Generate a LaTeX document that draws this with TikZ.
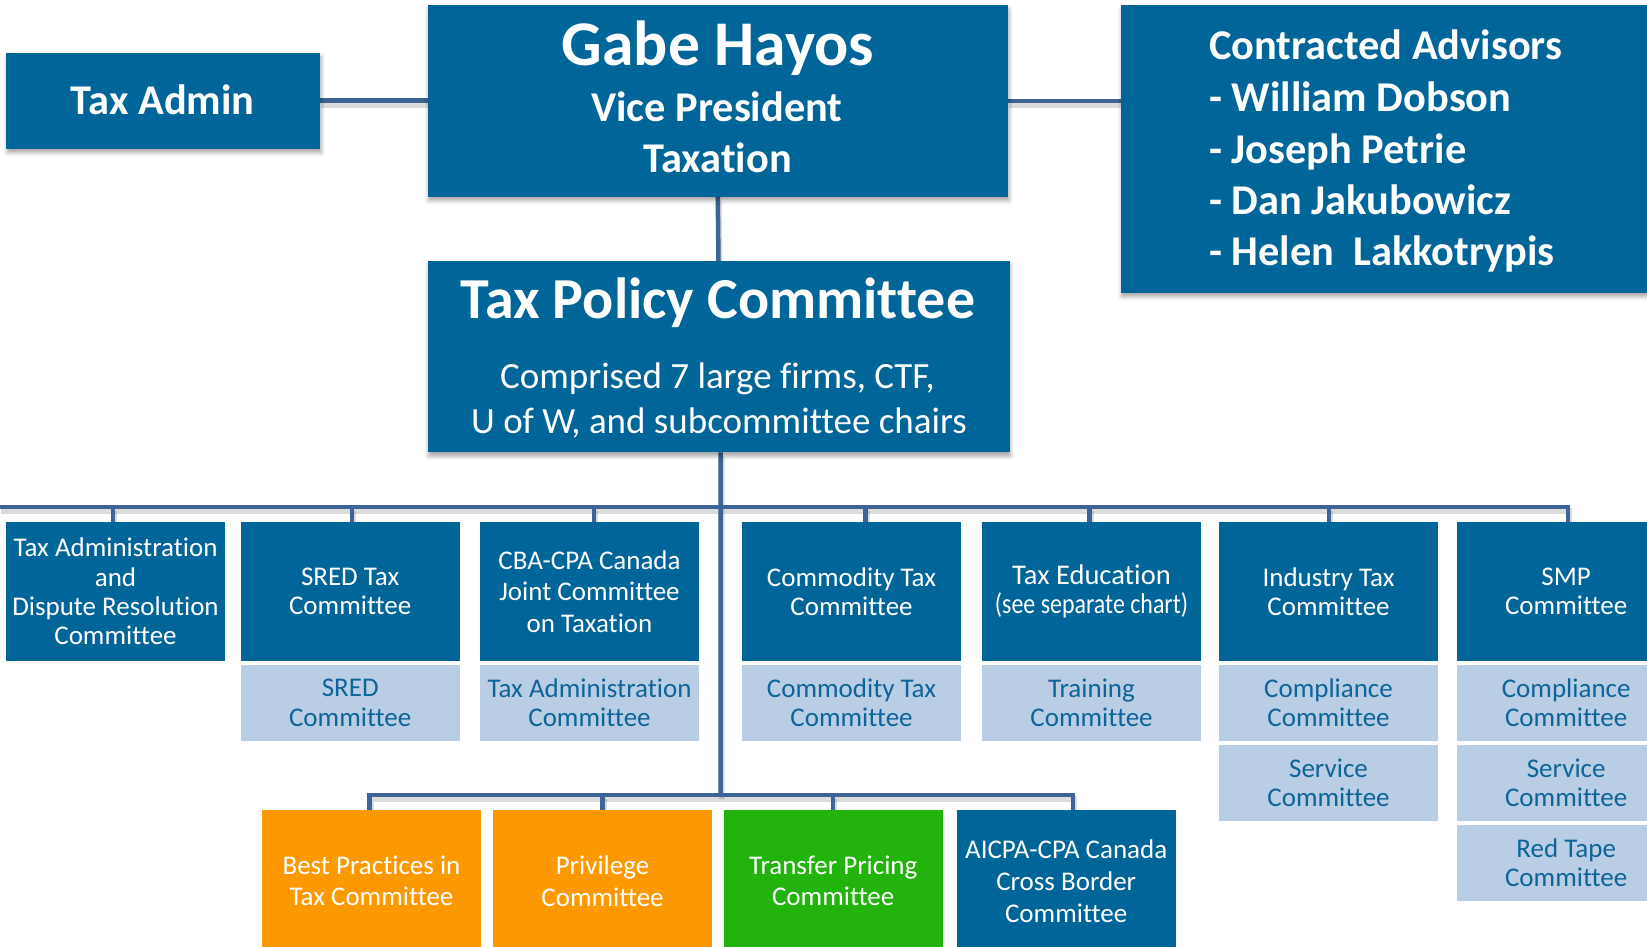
\documentclass[tikz,border=0pt]{standalone}
\usepackage{fontspec}
\setmainfont{Carlito}[Ligatures=NoCommon]
\newfontfamily\narrowfont[FakeStretch=0.84,Ligatures=NoCommon]{Carlito}
\usetikzlibrary{shadows.blur}
\definecolor{dblue}{RGB}{0,101,153}
\definecolor{lblue}{RGB}{185,205,229}
\definecolor{lnblue}{RGB}{60,100,150}
\definecolor{orng}{RGB}{253,153,0}
\definecolor{grn}{RGB}{34,179,12}
\definecolor{ltxt}{RGB}{12,100,152}
\pgfdeclarelayer{bg}
\pgfsetlayers{bg,main}
\newcommand\allconns[1]{%
  \draw[#1] (tadmin.east) -- (tadmin.east -| gabe.west);
  \draw[#1] (gabe.east) -- (gabe.east -| adv.west);
  \draw[#1] (gabe.south) -- (tpc.north);
  \draw[#1] ([xshift=2pt]tpc.south) -- (jL);
  \draw[#1] (busL) -- (busR) -- (busR |- c7.north);
  \draw[#1] ([xshift=-2.5pt]c1.north) -- ++(0,-15);
  \draw[#1] ([xshift=2pt]c2.north) -- ++(0,-15);
  \draw[#1] ([xshift=4.5pt]c3.north) -- ++(0,-15);
  \draw[#1] ([xshift=14pt]c4.north) -- ++(0,-15);
  \draw[#1] ([xshift=-2pt]c5.north) -- ++(0,-15);
  \draw[#1] ([xshift=0.5pt]c6.north) -- ++(0,-15);
  \draw[#1] ([xshift=-2pt]bA.north) |- (jL) -| ([xshift=7pt]bD.north);
  \draw[#1] (bB.north) -- ++(0,-15);
  \draw[#1] (bC.north) -- ++(0,-15);
}
\begin{document}
\begin{tikzpicture}[x=1pt,y=-1pt,
  box/.style={anchor=north west, inner sep=0pt, outer sep=0pt, align=center},
  dbox/.style={box, fill=dblue, text=white},
  lbox/.style={box, fill=lblue, text=ltxt},
  obox/.style={box, fill=orng, text=white},
  gbox/.style={box, fill=grn, text=white},
  cw/.style={minimum width=219pt, minimum height=139pt},
  lw/.style={minimum width=219pt, minimum height=76pt},
  bw/.style={minimum width=219pt, minimum height=142pt},
  sm/.style={font=\fontsize{27}{29.4}\selectfont},
  smw/.style={font=\fontsize{27}{31.5}\selectfont},
  topshadow/.style={blur shadow={shadow xshift=1pt, shadow yshift=-4pt, shadow blur radius=4pt, shadow opacity=35}},
  big/.style={anchor=base, text=white, inner sep=0pt, font=\bfseries\fontsize{42.4}{50}\selectfont},
  adv/.style={big, anchor=base west},
  conn/.style={draw=lnblue, line width=4.5pt},
  connshadow/.style={draw=black, opacity=0.14, line width=6pt},
]
\useasboundingbox (0,0) rectangle (1647,947);
\clip (0,0) rectangle (1647,947);

% top boxes
\node[dbox, topshadow, minimum width=314pt, minimum height=96pt] (tadmin) at (6.3,52.7) {};
\node[dbox, topshadow, minimum width=580.5pt, minimum height=191.7pt] (gabe) at (427.5,5) {};
\node[dbox, topshadow, minimum width=560pt, minimum height=287.7pt] (adv) at (1120.8,5) {};
\node[dbox, topshadow, minimum width=582pt, minimum height=191.3pt] (tpc) at (427.5,261) {};

\node[big] (ta1) at (162.7,114.3) {Tax Admin};
\node[big, font=\bfseries\fontsize{63.7}{70}\selectfont] (g1) at (718,65.7) {Gabe Hayos};
\node[big] (g2) at (717,121.7) {Vice President};
\node[big] (g3) at (717.5,172.7) {Taxation};
\node[adv] (a1) at (1209,60) {Contracted Advisors};
\node[adv] (a2) at (1209,111.7) {- William Dobson};
\node[adv] (a3) at (1209,163.3) {- Joseph Petrie};
\node[adv] (a4) at (1209,214.3) {- Dan Jakubowicz};
\node[adv] (a5) at (1209,265.7) {- Helen\ \ Lakkotrypis};
\node[big, font=\bfseries\fontsize{58}{64}\selectfont] (tp1) at (718,318.3) {Tax Policy Committee};
\node[big, font=\fontsize{37}{40}\selectfont] (tp2) at (717.5,388.3) {Comprised 7 large firms, CTF,};
\node[big, font=\fontsize{37}{40}\selectfont] (tp3) at (719,433.3) {U of W, and subcommittee chairs};

% row 1
\node[dbox, cw, sm] (c1) at (6,522) {Tax Administration\\and\\Dispute Resolution\\Committee};
\node[dbox, cw, sm] (c2) at (240.7,522) {SRED Tax\\Committee};
\node[dbox, cw, smw] (c3) at (480,522) {CBA-CPA Canada\\Joint Committee\\on Taxation};
\node[dbox, cw, sm] (c4) at (742,522) {Commodity Tax\\Committee};
\node[dbox, cw, font=\fontsize{28.5}{29.4}\selectfont] (c5) at (982,522) {Tax Education\\{\narrowfont (see separate chart)}};
\node[dbox, cw, sm] (c6) at (1219,522) {Industry Tax\\Committee};
\node[dbox, cw, sm] (c7) at (1456.7,522) {SMP\\Committee};

% light boxes
\node[lbox, lw, sm] (l2) at (240.7,665) {SRED\\Committee};
\node[lbox, lw, sm] (l3) at (480,665) {Tax Administration\\Committee};
\node[lbox, lw, sm] (l4) at (742,665) {Commodity Tax\\Committee};
\node[lbox, lw, sm] (l5) at (982,665) {Training\\Committee};
\node[lbox, lw, sm] (l6) at (1219,665) {Compliance\\Committee};
\node[lbox, lw, sm] (l7) at (1456.7,665) {Compliance\\Committee};
\node[lbox, lw, sm] (s6) at (1219,745) {Service\\Committee};
\node[lbox, lw, sm] (s7) at (1456.7,745) {Service\\Committee};
\node[lbox, lw, sm] (r7) at (1456.7,825) {Red Tape\\Committee};

% bottom boxes
\node[obox, bw, smw] (bA) at (262,810) {Best Practices in\\Tax Committee};
\node[obox, bw, smw] (bB) at (493,810) {Privilege\\Committee};
\node[gbox, bw, smw] (bC) at (723.7,810) {Transfer Pricing\\Committee};
\node[dbox, bw, font=\fontsize{27}{32}\selectfont] (bD) at (956.7,810) {AICPA-CPA Canada\\Cross Border\\Committee};

% connector junctions
\coordinate (busL) at (0,507);
\coordinate (busR) at (1568,507);
\coordinate (jL) at (720.6,795);

\begin{pgfonlayer}{bg}
  \begin{scope}[transform canvas={xshift=1pt,yshift=-4pt}]
    \allconns{connshadow}
  \end{scope}
  \allconns{conn}
\end{pgfonlayer}
\end{tikzpicture}
\end{document}
